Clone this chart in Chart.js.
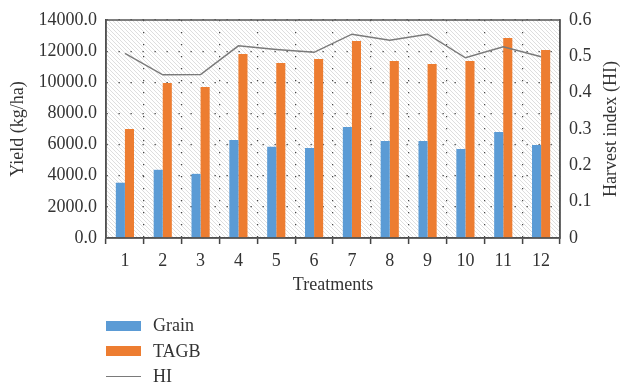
<!DOCTYPE html>
<html>
<head>
<meta charset="utf-8">
<script src="https://cdn.jsdelivr.net/npm/chart.js@4"></script>
<style>
  html, body { margin: 0; padding: 0; background: #fff; }
  #wrap { position: relative; width: 621px; height: 383px; }
  #legend { position: absolute; left: 106px; top: 313px; font: 18px "Liberation Serif", serif; color: #333; }
  .item { display: flex; align-items: center; height: 25.5px; }
  .sw { width: 35px; margin-right: 12px; }
</style>
</head>
<body>
<div id="wrap">
  <canvas id="chart" width="621" height="383"></canvas>
  <div id="legend"></div>
</div>
<script>
/* Yield / harvest index by treatment */
const treatments = ["1", "2", "3", "4", "5", "6", "7", "8", "9", "10", "11", "12"];
const grain = [3550, 4380, 4120, 6290, 5860, 5780, 7130, 6230, 6230, 5720, 6810, 5970];
const tagb = [7000, 9950, 9700, 11820, 11240, 11500, 12650, 11370, 11170, 11370, 12840, 12070];
const hi = [0.508, 0.449, 0.450, 0.529, 0.519, 0.511, 0.561, 0.544, 0.561, 0.496, 0.526, 0.499];

const FONT = { family: "'Liberation Serif', serif", size: 18 };
const INK = "#333";

function hatchPattern(ctx) {
  const t = document.createElement("canvas");
  t.width = t.height = 4;
  const c = t.getContext("2d");
  c.fillStyle = "#fff";
  c.fillRect(0, 0, 4, 4);
  c.fillStyle = "#dedede";
  for (let i = 0; i < 4; i++) c.fillRect(i, i, 1, 1);
  return ctx.createPattern(t, "repeat");
}

const plotDecor = {
  id: "plotDecor",
  beforeDraw(chart) {
    const { ctx, chartArea: a } = chart;
    ctx.save();
    ctx.fillStyle = hatchPattern(ctx);
    ctx.fillRect(a.left, a.top, a.right - a.left, a.bottom - a.top);
    ctx.restore();
  },
  afterDatasetsDraw(chart) {
    const { ctx, chartArea: a } = chart;
    ctx.save();
    ctx.setLineDash([]);
    ctx.strokeStyle = "#555";
    ctx.lineWidth = 1.5;
    ctx.strokeRect(a.left, a.top, a.right - a.left, a.bottom - a.top);
    ctx.restore();
  },
  afterDraw(chart) {
    // right axis title reads bottom-to-top in the original
    const { ctx, chartArea: a } = chart;
    ctx.save();
    ctx.translate(611, (a.top + a.bottom) / 2);
    ctx.rotate(-Math.PI / 2);
    ctx.font = FONT.size + "px " + FONT.family;
    ctx.fillStyle = INK;
    ctx.textAlign = "center";
    ctx.textBaseline = "middle";
    ctx.fillText("Harvest index (HI)", 0, 0);
    ctx.restore();
  }
};

const chart = new Chart(document.getElementById("chart"), {
  type: "bar",
  data: {
    labels: treatments,
    datasets: [
      { label: "Grain", data: grain, backgroundColor: "#5b9bd5", yAxisID: "y", order: 1 },
      { label: "TAGB", data: tagb, backgroundColor: "#ed7d31", yAxisID: "y", order: 1 },
      { label: "HI", type: "line", data: hi, borderColor: "#7a7a7a", borderWidth: 1.5, pointRadius: 0, tension: 0, yAxisID: "y1", order: 0 }
    ]
  },
  options: {
    responsive: false,
    animation: false,
    layout: { padding: { top: 20, bottom: 83, left: 0, right: 0 } },
    datasets: { bar: { categoryPercentage: 0.48, barPercentage: 1 } },
    plugins: { legend: { display: false }, tooltip: { enabled: false } },
    scales: {
      x: {
        grid: { color: "#444", lineWidth: 1.2, offset: true, tickLength: 6, tickColor: "#444", tickWidth: 1.5, tickBorderDash: [] },
        border: { display: true, color: "#444", width: 1.5, dash: [1.3, 10.7] },
        ticks: { color: INK, font: FONT, padding: 6 },
        title: { display: true, text: "Treatments", color: INK, font: FONT, padding: { top: 0, bottom: 4 } },
        afterFit(s) { s.height = 62; }
      },
      y: {
        position: "left",
        min: 0, max: 14000,
        grid: { color: "#444", lineWidth: 1.2, drawTicks: false },
        border: { display: true, color: "#444", width: 1.5, dash: [1.3, 10.7] },
        ticks: { stepSize: 2000, color: INK, font: FONT, padding: 9, callback: v => v.toFixed(1) },
        title: { display: true, text: "Yield (kg/ha)", color: INK, font: FONT, padding: { top: 7, bottom: 0 } },
        afterFit(s) { s.width = 106; }
      },
      y1: {
        position: "right",
        min: 0, max: 0.6,
        grid: { drawOnChartArea: false, drawTicks: false },
        border: { display: true, color: "#555", width: 1.5 },
        ticks: { stepSize: 0.1, color: INK, font: FONT, padding: 9, callback: v => v === 0 ? "0" : v.toFixed(1) },
        afterFit(s) { s.width = 61; }
      }
    }
  },
  plugins: [plotDecor]
});

// vertical legend under the plot, built from the chart's datasets
document.getElementById("legend").innerHTML = chart.data.datasets.map(d => {
  const sw = d.type === "line"
    ? `<span class="sw" style="height:0;border-top:1.5px solid ${d.borderColor}"></span>`
    : `<span class="sw" style="height:10px;background:${d.backgroundColor}"></span>`;
  return `<div class="item">${sw}<span>${d.label}</span></div>`;
}).join("");
</script>
</body>
</html>
